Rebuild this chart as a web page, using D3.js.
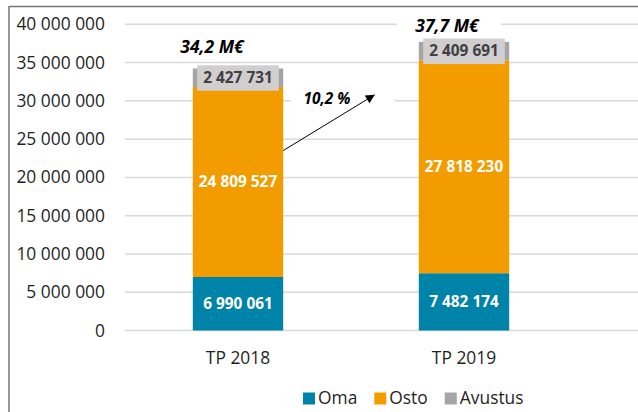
<!DOCTYPE html>
<html>
<head>
<meta charset="utf-8">
<script src="https://cdn.jsdelivr.net/npm/d3@7"></script>
<style>
  body { margin: 0; background: #fff; }
  svg { display: block; font-family: "Open Sans", sans-serif; }
</style>
</head>
<body>
<svg class="chart" width="638" height="412"></svg>
<script>
// data
const categories = ['TP 2018', 'TP 2019'];
const seriesNames = ['Oma', 'Osto', 'Avustus'];
const oma = [6990061, 7482174];
const osto = [24809527, 27818230];
const avustus = [2427731, 2409691];
const totalLabels = ['34,2 M€', '37,7 M€'];
const growthLabel = '10,2 %';
const yTicks = [0, 5000000, 10000000, 15000000, 20000000, 25000000, 30000000, 35000000, 40000000];

// arrow runs between these values (start at first bar, end before second)
const arrowFrom = 23500000;
const arrowTo = 30800000;

const colors = { Oma: '#0083a9', Osto: '#f39c00', Avustus: '#a5a5a5' };

const fi = d3.formatLocale({ decimal: ',', thousands: ' ', grouping: [3], currency: ['', ''] });
const fmt = fi.format(',d');

var svg = d3.select('.chart');

//frame (only top and left edges are visible in the crop)
svg.append('line').attr('x1', 9).attr('x2', 638).attr('y1', 6.5).attr('y2', 6.5)
    .attr('stroke', '#767676').attr('stroke-width', 1.5);
svg.append('line').attr('x1', 9).attr('x2', 9).attr('y1', 6).attr('y2', 412)
    .attr('stroke', '#767676').attr('stroke-width', 1.5);

var x = d3.scaleBand()
    .domain(categories)
    .range([125, 577])
    .paddingInner(0.6)
    .paddingOuter(0.3);

var y = d3.scaleLinear()
    .domain([0, 40000000])
    .range([330.5, 24.3]);

//gridlines
svg.append('g')
    .selectAll('line')
    .data(yTicks)
    .enter().append('line')
    .attr('x1', 125).attr('x2', 638)
    .attr('y1', d => y(d)).attr('y2', d => y(d))
    .attr('stroke', '#d9d9d9').attr('stroke-width', 1.5);

//y axis labels
svg.append('g')
    .selectAll('text')
    .data(yTicks)
    .enter().append('text')
    .attr('x', 105)
    .attr('y', d => y(d))
    .attr('dy', '0.35em')
    .attr('text-anchor', 'end')
    .style('font-size', '17.4px')
    .attr('fill', '#1f1f1f')
    .text(d => fmt(d));

//stacked bars
var rows = categories.map((c, i) => ({ cat: c, Oma: oma[i], Osto: osto[i], Avustus: avustus[i] }));
var stack = d3.stack().keys(seriesNames)(rows);

var layers = svg.append('g')
    .selectAll('g')
    .data(stack)
    .enter().append('g')
    .attr('fill', d => colors[d.key]);

layers.selectAll('rect')
    .data(d => d)
    .enter().append('rect')
    .attr('x', d => x(d.data.cat))
    .attr('width', x.bandwidth())
    .attr('y', d => y(d[1]))
    .attr('height', d => y(d[0]) - y(d[1]));

//segment labels
stack.forEach(layer => {
    layer.forEach(d => {
        var cx = x(d.data.cat) + x.bandwidth() / 2;
        var cy = (y(d[0]) + y(d[1])) / 2;
        var g = svg.append('g');
        var t = g.append('text')
            .attr('x', cx).attr('y', cy).attr('dy', '0.35em')
            .attr('text-anchor', 'middle')
            .style('font-size', '15.4px').style('font-weight', 'bold')
            .attr('fill', layer.key === 'Avustus' ? '#404040' : '#fff')
            .text(fmt(d.data[layer.key]));
        if (layer.key === 'Avustus') {
            var w = t.node().getComputedTextLength() + 12;
            g.insert('rect', 'text')
                .attr('x', cx - w / 2).attr('y', cy - 12.5)
                .attr('width', w).attr('height', 25.5)
                .attr('fill', '#d0cece');
        }
    });
});

//total labels above bars
var totalDx = [-26, -17];
var totalDy = [-15, -10];
categories.forEach((c, i) => {
    var top = y(oma[i] + osto[i] + avustus[i]);
    var cx = x(c) + x.bandwidth() / 2 + totalDx[i];
    var g = svg.append('g');
    g.append('rect')
        .attr('x', cx - 50).attr('y', top + totalDy[i] - 17)
        .attr('width', 104).attr('height', 22)
        .attr('fill', '#fff');
    g.append('text')
        .attr('x', cx).attr('y', top + totalDy[i])
        .attr('text-anchor', 'middle')
        .style('font-size', '17.5px').style('font-weight', 'bold').style('font-style', 'italic')
        .attr('fill', '#000')
        .text(totalLabels[i]);
});

//growth arrow
var ax1 = x(categories[0]) + x.bandwidth();
var ax2 = x(categories[1]) - 44;
var ay1 = y(arrowFrom), ay2 = y(arrowTo);

svg.append('defs').append('marker')
    .attr('id', 'head')
    .attr('viewBox', '0 0 10 10')
    .attr('refX', 10).attr('refY', 5)
    .attr('markerWidth', 11).attr('markerHeight', 9)
    .attr('markerUnits', 'userSpaceOnUse')
    .attr('orient', 'auto')
    .append('path').attr('d', 'M0,0L10,5L0,10Z').attr('fill', '#000');

var gl = svg.append('g');
gl.append('rect')
    .attr('x', 291).attr('y', y(arrowTo) - 5)
    .attr('width', 104).attr('height', 18)
    .attr('fill', '#fff');
gl.append('text')
    .attr('x', 327).attr('y', y(arrowTo) + 4)
    .attr('dy', '0.35em')
    .attr('text-anchor', 'middle')
    .style('font-size', '15.4px').style('font-weight', 'bold').style('font-style', 'italic')
    .attr('fill', '#000')
    .text(growthLabel);

svg.append('line')
    .attr('x1', ax1).attr('y1', ay1)
    .attr('x2', ax2).attr('y2', ay2)
    .attr('stroke', '#000').attr('stroke-width', 1)
    .attr('marker-end', 'url(#head)');

//category labels
svg.append('g')
    .selectAll('text')
    .data(categories)
    .enter().append('text')
    .attr('x', d => x(d) + x.bandwidth() / 2)
    .attr('y', 358)
    .attr('dy', '0.35em')
    .attr('text-anchor', 'middle')
    .style('font-size', '17.4px')
    .attr('fill', '#1f1f1f')
    .text(d => d);

//legend
var lx = 303;
seriesNames.forEach(name => {
    svg.append('rect')
        .attr('x', lx).attr('y', 392.5)
        .attr('width', 12).attr('height', 12)
        .attr('fill', colors[name]);
    var t = svg.append('text')
        .attr('x', lx + 15).attr('y', 398)
        .attr('dy', '0.35em')
        .style('font-size', '17.4px')
        .attr('fill', '#1f1f1f')
        .text(name);
    lx += 15 + t.node().getComputedTextLength() + 17;
});
</script>
</body>
</html>
